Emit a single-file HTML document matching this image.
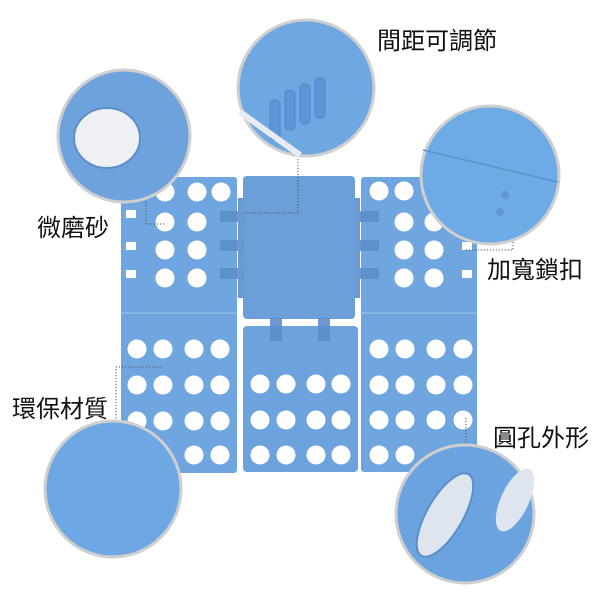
<!DOCTYPE html>
<html><head><meta charset="utf-8"><style>
html,body{margin:0;padding:0;background:#fff;width:600px;height:600px;overflow:hidden}
svg{display:block}
text{font-family:"Liberation Sans","Noto Sans CJK TC",sans-serif;font-size:24px;fill:#111}
</style></head><body>
<svg width="600" height="600" viewBox="0 0 600 600" xmlns="http://www.w3.org/2000/svg">
<defs>
<g id="h"><circle r="9.5" fill="#fff"/></g>
</defs>
<rect x="121" y="177" width="116" height="296" rx="3" fill="#6fa6df"/>
<rect x="361" y="177" width="116" height="295" rx="3" fill="#6fa6df"/>
<rect x="243" y="176" width="112" height="143" rx="4" fill="#6a9fd8"/>
<rect x="243" y="326" width="115" height="146" rx="4" fill="#6ca3dc"/>
<line x1="121" y1="313" x2="237" y2="313" stroke="#8fbbe8" stroke-width="1.5"/>
<line x1="361" y1="313" x2="477" y2="313" stroke="#8fbbe8" stroke-width="1.5"/>
<g fill="#5b8fca" opacity="0.9">
<rect x="238" y="198" width="5" height="100"/><rect x="355" y="198" width="5" height="100"/>
<rect x="220" y="211" width="24" height="11"/><rect x="220" y="240" width="24" height="11"/><rect x="220" y="268" width="24" height="11"/>
<rect x="355" y="211" width="24" height="11"/><rect x="355" y="240" width="24" height="11"/><rect x="355" y="268" width="24" height="11"/>
<rect x="270" y="318" width="12" height="23"/><rect x="318" y="318" width="12" height="23"/>
</g>
<g fill="#fff">
<rect x="126" y="210" width="10" height="8"/><rect x="126" y="242" width="10" height="8"/><rect x="126" y="270" width="10" height="8"/>
<rect x="462" y="242" width="10" height="8"/><rect x="462" y="270" width="10" height="8"/>
</g>
<g>
<use href="#h" x="165" y="192"/><use href="#h" x="197" y="192"/><use href="#h" x="221" y="192"/>
<use href="#h" x="165" y="222"/><use href="#h" x="197" y="222"/>
<use href="#h" x="165" y="250"/><use href="#h" x="197" y="250"/>
<use href="#h" x="165" y="278"/><use href="#h" x="197" y="278"/>
<use href="#h" x="137" y="349"/><use href="#h" x="163" y="349"/><use href="#h" x="194" y="349"/><use href="#h" x="220" y="349"/>
<use href="#h" x="137" y="385"/><use href="#h" x="163" y="385"/><use href="#h" x="194" y="385"/><use href="#h" x="220" y="385"/>
<use href="#h" x="137" y="421"/><use href="#h" x="163" y="421"/><use href="#h" x="194" y="421"/><use href="#h" x="220" y="421"/>
<use href="#h" x="194" y="455"/><use href="#h" x="220" y="455"/>
<use href="#h" x="260" y="384"/><use href="#h" x="286" y="384"/><use href="#h" x="316" y="384"/><use href="#h" x="341" y="384"/>
<use href="#h" x="260" y="420"/><use href="#h" x="286" y="420"/><use href="#h" x="316" y="420"/><use href="#h" x="341" y="420"/>
<use href="#h" x="260" y="455"/><use href="#h" x="286" y="455"/><use href="#h" x="316" y="455"/><use href="#h" x="341" y="455"/>
<use href="#h" x="379" y="191"/><use href="#h" x="404" y="191"/>
<use href="#h" x="404" y="222"/><use href="#h" x="434" y="222"/>
<use href="#h" x="404" y="250"/><use href="#h" x="434" y="250"/>
<use href="#h" x="404" y="278"/><use href="#h" x="434" y="278"/>
<use href="#h" x="379" y="349"/><use href="#h" x="405" y="349"/><use href="#h" x="436" y="349"/><use href="#h" x="463" y="349"/>
<use href="#h" x="379" y="385"/><use href="#h" x="405" y="385"/><use href="#h" x="436" y="385"/><use href="#h" x="463" y="385"/>
<use href="#h" x="379" y="420"/><use href="#h" x="405" y="420"/><use href="#h" x="436" y="420"/><use href="#h" x="463" y="420"/>
<use href="#h" x="379" y="455"/><use href="#h" x="405" y="455"/>
</g>
<g fill="none" stroke="#555" stroke-width="1" stroke-dasharray="1.2,1.8">
<polyline points="298,156 298,213 245,213"/>
<polyline points="146,202 146,224 166,224"/>
<polyline points="513,242 513,250 465,250"/>
<polyline points="162,367 116,367 116,424"/>
<polyline points="466,418 466,448"/>
</g>
<g stroke="#cfcfcf" stroke-width="3">
<circle cx="124" cy="136" r="66" fill="#6ea2dc"/>
<circle cx="306" cy="88" r="68" fill="#6ea7e2"/>
<circle cx="490" cy="175" r="69" fill="#6eaae6"/>
<circle cx="113" cy="489" r="68" fill="#6ea8e4"/>
<circle cx="465" cy="514" r="69" fill="#6aa3df"/>
</g>
<ellipse cx="107" cy="138" rx="33" ry="30" fill="#eef0f4" stroke="#5c8fc8" stroke-width="2"/>
<g fill="#5b96d8" stroke="#4f86c4" stroke-width="1">
<rect x="270" y="100" width="10" height="40" rx="4"/>
<rect x="285" y="90" width="10" height="40" rx="4"/>
<rect x="300" y="84" width="10" height="40" rx="4"/>
<rect x="315" y="78" width="10" height="40" rx="4"/>
</g>
<path d="M240 112 L300 155" stroke="#e8ecf2" stroke-width="6"/>
<line x1="423" y1="150" x2="558" y2="182" stroke="#5a92cc" stroke-width="1.5"/>
<circle cx="505" cy="195" r="4" fill="#5f97d4"/><circle cx="500" cy="212" r="4" fill="#5f97d4"/>
<ellipse cx="445" cy="515" rx="18" ry="47" transform="rotate(30 445 515)" fill="#dfe5ee" stroke="#5b8fc8" stroke-width="2"/>
<ellipse cx="515" cy="500" rx="14" ry="34" transform="rotate(25 515 500)" fill="#dfe5ee"/>
<text x="377" y="49">間距可調節</text>
<text x="37" y="236">微磨砂</text>
<text x="487" y="278">加寬鎖扣</text>
<text x="12" y="417">環保材質</text>
<text x="493" y="446">圓孔外形</text>
</svg>
</body></html>
